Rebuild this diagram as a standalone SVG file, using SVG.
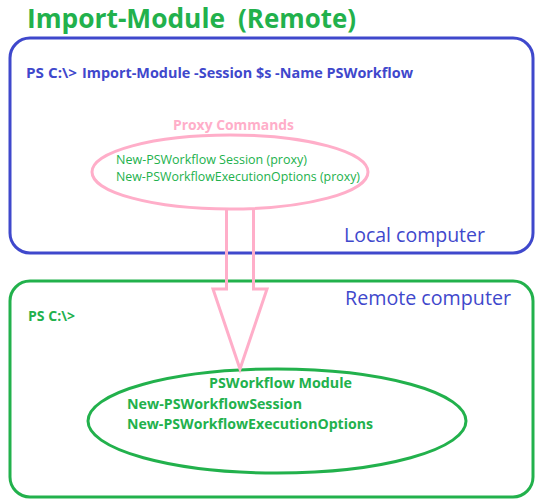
<svg xmlns="http://www.w3.org/2000/svg" width="542" height="504" viewBox="0 0 542 504">
<style>
.box{fill:none;stroke-width:3}
.blue{fill:#3f48cc}
.green{fill:#22b14c}
.pink{fill:#ffaec9}
text{font-family:"Open Sans","Liberation Sans",sans-serif}
.b{font-weight:bold}
</style>
<rect width="542" height="504" fill="#fff"/>
<text id="title" class="green b" y="28" font-size="26"><tspan x="27" textLength="198" lengthAdjust="spacingAndGlyphs">Import-Module</tspan><tspan x="238" textLength="118" lengthAdjust="spacingAndGlyphs">(Remote)</tspan></text>
<g id="local">
<rect class="box" x="10" y="38" width="523" height="215" rx="20" stroke="#3f48cc"/>
<text class="blue b" x="26" y="78" font-size="14"><tspan x="26" textLength="51" lengthAdjust="spacingAndGlyphs">PS C:\&gt;</tspan><tspan x="82" textLength="331" lengthAdjust="spacingAndGlyphs">Import-Module -Session $s -Name PSWorkflow</tspan></text>
<text class="blue" x="344" y="242" font-size="20" textLength="141" lengthAdjust="spacingAndGlyphs">Local computer</text>
</g>
<g id="remote">
<rect class="box" x="10" y="281" width="523" height="216" rx="20" stroke="#22b14c"/>
<text class="blue" x="345" y="305" font-size="20" textLength="166" lengthAdjust="spacingAndGlyphs">Remote computer</text>
<text class="green b" x="28" y="321" font-size="14" textLength="47" lengthAdjust="spacingAndGlyphs">PS C:\&gt;</text>
</g>
<g id="proxy">
<text class="pink b" x="173" y="130" font-size="14" textLength="121" lengthAdjust="spacingAndGlyphs">Proxy Commands</text>
<ellipse cx="230" cy="172" rx="138" ry="37" fill="none" stroke="#ffaec9" stroke-width="3"/>
<text class="green" x="116" y="164" font-size="12.5" textLength="191" lengthAdjust="spacingAndGlyphs">New-PSWorkflow Session (proxy)</text>
<text class="green" x="116" y="181" font-size="12.5" textLength="244" lengthAdjust="spacingAndGlyphs">New-PSWorkflowExecutionOptions (proxy)</text>
</g>
<g id="module">
<ellipse cx="277" cy="421" rx="189" ry="52" fill="none" stroke="#22b14c" stroke-width="3"/>
<text class="green b" x="209" y="388" font-size="14" textLength="143" lengthAdjust="spacingAndGlyphs">PSWorkflow Module</text>
<text class="green b" x="127" y="409" font-size="14" textLength="175" lengthAdjust="spacingAndGlyphs">New-PSWorkflowSession</text>
<text class="green b" x="127" y="429" font-size="14" textLength="246" lengthAdjust="spacingAndGlyphs">New-PSWorkflowExecutionOptions</text>
</g>
<g id="connectors">
<path d="M226.5,209 V289 H213 L240,369 L267,289 H253.5 V209" fill="none" stroke="#ffaec9" stroke-width="3" stroke-linejoin="miter"/>
</g>
</svg>
